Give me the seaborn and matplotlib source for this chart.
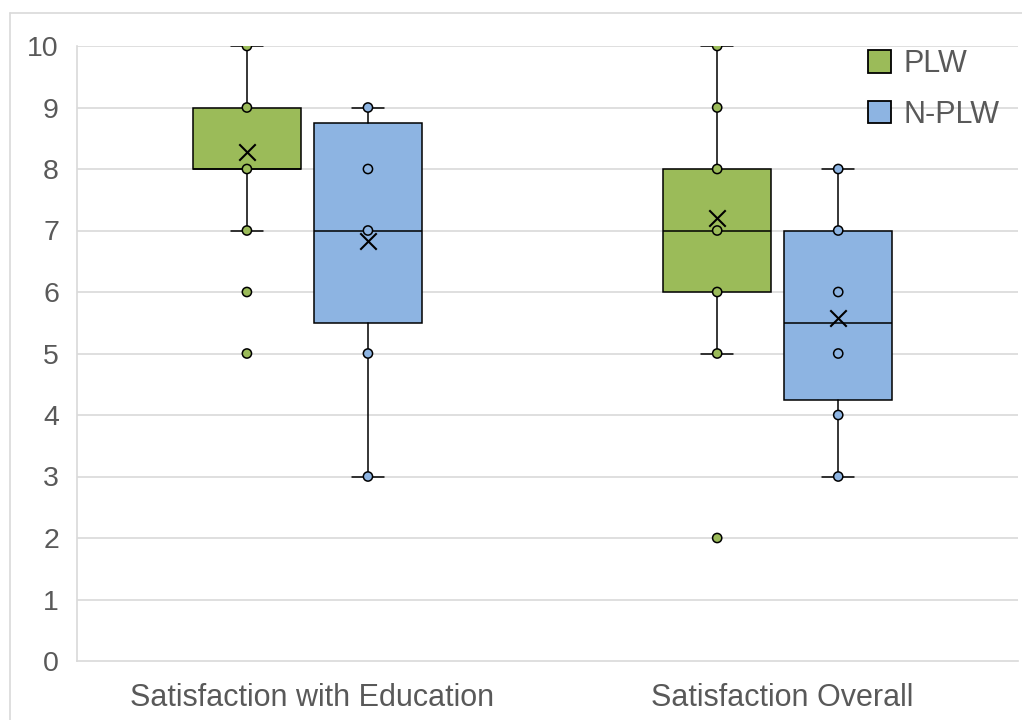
import matplotlib
matplotlib.use("Agg")
import matplotlib.pyplot as plt
from matplotlib.patches import Patch
from matplotlib.lines import Line2D
import seaborn as sns
import pandas as pd

# ---- data ----
categories = ["Satisfaction with Education", "Satisfaction Overall"]
groups = ["PLW", "N-PLW"]

# box statistics per (category, group)
q1 = {"PLW": [8, 6], "N-PLW": [5.5, 4.25]}
median = {"PLW": [8, 7], "N-PLW": [7, 5.5]}
q3 = {"PLW": [9, 8], "N-PLW": [8.75, 7]}
whisk_lo = {"PLW": [7, 5], "N-PLW": [3, 3]}
whisk_hi = {"PLW": [10, 10], "N-PLW": [9, 8]}
mean = {"PLW": [8.27, 7.2], "N-PLW": [6.83, 5.58]}

# distinct data points shown (inner points and outliers)
points_plw_edu = [10, 9, 8, 7, 6, 5]
points_nplw_edu = [9, 8, 7, 5, 3]
points_plw_all = [10, 9, 8, 7, 6, 5, 2]
points_nplw_all = [8, 7, 6, 5, 4, 3]

yticks = [0, 1, 2, 3, 4, 5, 6, 7, 8, 9, 10]

colors = {"PLW": "#9BBB59", "N-PLW": "#8DB4E2"}
offsets = {"PLW": -0.1287, "N-PLW": 0.1287}

sns.set_theme(style="white")
plt.rcParams["font.family"] = ["Liberation Sans", "DejaVu Sans"]

fig = plt.figure(figsize=(10.22, 7.2), dpi=100)
ax = fig.add_axes([77 / 1022, 1 - 661 / 720, (1018 - 77) / 1022, (661 - 46) / 720])

# chart frame (left/top visible)
fig.add_artist(Line2D([10 / 1022, 10 / 1022], [0, 1 - 13 / 720], transform=fig.transFigure,
                      color="#d9d9d9", lw=1.2))
fig.add_artist(Line2D([10 / 1022, 1], [1 - 13 / 720, 1 - 13 / 720], transform=fig.transFigure,
                      color="#d9d9d9", lw=1.2))

# gridlines
for y in yticks[1:]:
    ax.axhline(y, color="#d9d9d9", lw=1.2, zorder=0)

# boxes
for g in groups:
    stats = []
    pos = []
    for i in range(len(categories)):
        stats.append(dict(med=median[g][i], q1=q1[g][i], q3=q3[g][i],
                          whislo=whisk_lo[g][i], whishi=whisk_hi[g][i],
                          mean=mean[g][i], fliers=[]))
        pos.append(i + offsets[g])
    ax.bxp(stats, positions=pos, widths=0.23, capwidths=0.068,
           showmeans=False, showfliers=False, patch_artist=True,
           boxprops=dict(facecolor=colors[g], edgecolor="black", linewidth=1.1),
           medianprops=dict(color="black", linewidth=1.1),
           whiskerprops=dict(color="black", linewidth=1.1),
           capprops=dict(color="black", linewidth=1.1),
           zorder=2)

# points
rows = []
for plist, g in [(points_plw_edu, "PLW"), (points_nplw_edu, "N-PLW")]:
    for v in plist:
        rows.append(dict(x=0 + offsets[g], y=v, group=g))
for plist, g in [(points_plw_all, "PLW"), (points_nplw_all, "N-PLW")]:
    for v in plist:
        rows.append(dict(x=1 + offsets[g], y=v, group=g))
df = pd.DataFrame(rows)
sns.scatterplot(data=df, x="x", y="y", hue="group", palette=colors, s=44,
                edgecolor="black", linewidth=1.1, legend=False, ax=ax, zorder=3)

# means
mrows = []
for g in groups:
    for i in range(len(categories)):
        mrows.append(dict(x=i + offsets[g], y=mean[g][i]))
mdf = pd.DataFrame(mrows)
sns.scatterplot(data=mdf, x="x", y="y", marker="x", s=140, color="black",
                linewidth=1.5, legend=False, ax=ax, zorder=4)

ax.set_xlim(-0.490, 1.511)
ax.set_ylim(0, 10)
ax.set_yticks(yticks)
ax.set_yticklabels([str(t) for t in yticks])
ax.set_xticks([0.01, 1.01])
ax.set_xticklabels(categories)
ax.set_xlabel("")
ax.set_ylabel("")
ax.tick_params(axis="y", length=0, labelsize=20.5, colors="#595959", pad=13)
ax.tick_params(axis="x", length=0, labelsize=22, colors="#595959", pad=16)
for s in ["top", "right"]:
    ax.spines[s].set_visible(False)
for s in ["left", "bottom"]:
    ax.spines[s].set_color("#d9d9d9")
    ax.spines[s].set_linewidth(1.2)

handles = [Patch(facecolor=colors[g], edgecolor="black", linewidth=1.3, label=g) for g in groups]
leg = fig.legend(handles=handles, loc="upper left", bbox_to_anchor=(868 / 1022, 1 - 49 / 720),
                 frameon=False, fontsize=22, handlelength=0.75, handleheight=0.75,
                 handletextpad=0.4, labelspacing=0.68, borderpad=0, borderaxespad=0)
for t in leg.get_texts():
    t.set_color("#595959")

fig.savefig("out.png", dpi=100)
